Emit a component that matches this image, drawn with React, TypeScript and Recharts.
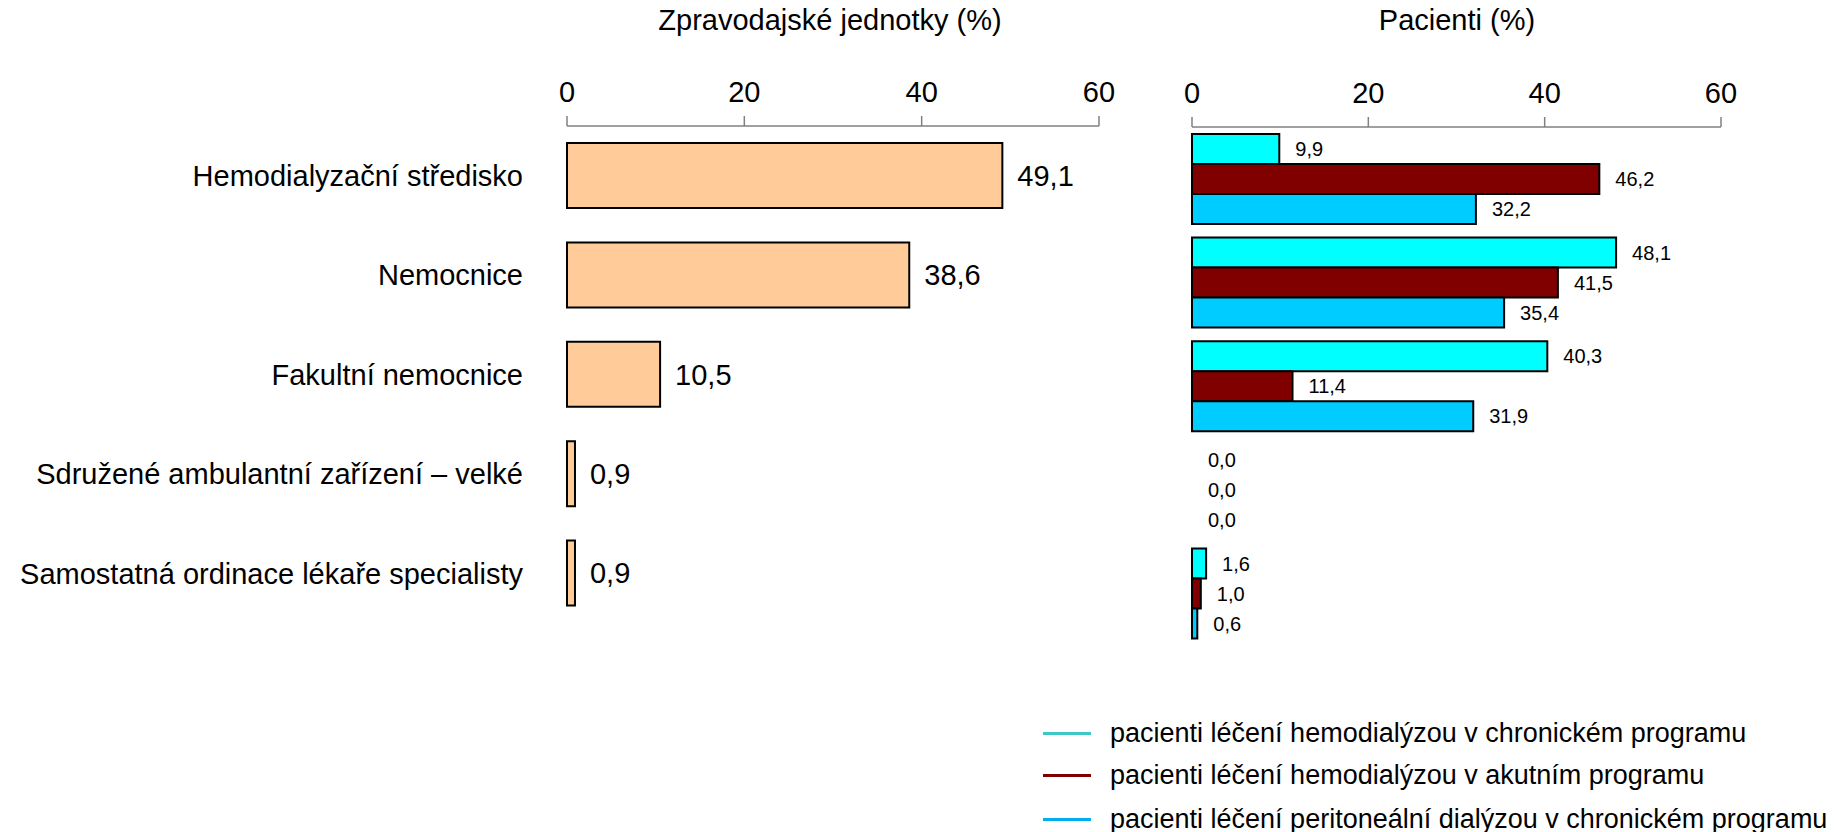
import React from "react";
import { Bar, BarChart, Cell, LabelList, XAxis, YAxis } from "recharts";

const categories = [
  "Hemodialyzační středisko",
  "Nemocnice",
  "Fakultní nemocnice",
  "Sdružené ambulantní zařízení – velké",
  "Samostatná ordinace lékaře specialisty",
];

// Zpravodajské jednotky (%)
const unitShares = [49.1, 38.6, 10.5, 0.9, 0.9];

// Pacienti (%)
const hdChronic = [9.9, 48.1, 40.3, 0.0, 1.6];
const hdAcute = [46.2, 41.5, 11.4, 0.0, 1.0];
const pdChronic = [32.2, 35.4, 31.9, 0.0, 0.6];

const axisTicks = [0, 20, 40, 60];

const seriesNames = [
  "pacienti léčení hemodialýzou v chronickém programu",
  "pacienti léčení hemodialýzou v akutním programu",
  "pacienti léčení peritoneální dialýzou v chronickém programu",
];

const FONT = '"Liberation Sans", Arial, sans-serif';
const barColors = ["#00ffff", "#800000", "#00ccff"];
const legendColors = ["#3cc8c8", "#800000", "#00aeef"];

const unitsData = categories.map((name, i) => ({ name, value: unitShares[i] }));
const patientsData = categories.map((name, i) => ({
  name,
  hdc: hdChronic[i],
  hda: hdAcute[i],
  pdc: pdChronic[i],
}));
const patientSeries = [hdChronic, hdAcute, pdChronic];

const fmt = (v: any) => Number(v).toFixed(1).replace(".", ",");

const tickStyle = { fontSize: 29, fill: "#000", fontFamily: FONT };

export default function App() {
  return (
    <div
      style={{
        position: "absolute",
        left: 0,
        top: 0,
        width: 1834,
        height: 832,
        background: "#fff",
        fontFamily: FONT,
        color: "#000",
      }}
    >
      <div style={{ position: "absolute", left: 580, width: 500, top: 4, textAlign: "center", fontSize: 29 }}>
        Zpravodajské jednotky (%)
      </div>
      <div style={{ position: "absolute", left: 1207, width: 500, top: 4, textAlign: "center", fontSize: 29 }}>
        Pacienti (%)
      </div>

      <div style={{ position: "absolute", left: 0, top: 0 }}>
        <BarChart
          width={1130}
          height={623}
          data={unitsData}
          layout="vertical"
          margin={{ top: 86, right: 31, bottom: 0, left: 0 }}
          barCategoryGap={17}
        >
          <XAxis
            type="number"
            orientation="top"
            domain={[0, 60]}
            ticks={axisTicks}
            height={40}
            tickSize={10}
            tickMargin={14}
            axisLine={{ stroke: "#808080", strokeWidth: 1.5 }}
            tickLine={{ stroke: "#808080", strokeWidth: 1.5 }}
            tick={tickStyle}
          />
          <YAxis
            type="category"
            dataKey="name"
            width={567}
            axisLine={false}
            tickLine={false}
            tickSize={0}
            tickMargin={44}
            interval={0}
            tick={tickStyle}
          />
          <Bar dataKey="value" fill="#ffcc99" stroke="#000" strokeWidth={2} isAnimationActive={false}>
            <LabelList dataKey="value" position="right" offset={15} formatter={fmt} style={tickStyle} />
          </Bar>
        </BarChart>
      </div>

      <div style={{ position: "absolute", left: 1140, top: 0 }}>
        <BarChart
          width={694}
          height={645}
          data={patientsData}
          layout="vertical"
          margin={{ top: 87, right: 113, bottom: 0, left: 52 }}
          barCategoryGap={7}
          barGap={0}
        >
          <XAxis
            type="number"
            orientation="top"
            domain={[0, 60]}
            ticks={axisTicks}
            height={40}
            tickSize={10}
            tickMargin={14}
            axisLine={{ stroke: "#808080", strokeWidth: 1.5 }}
            tickLine={{ stroke: "#808080", strokeWidth: 1.5 }}
            tick={tickStyle}
          />
          <YAxis type="category" dataKey="name" hide />
          {["hdc", "hda", "pdc"].map((key, i) => (
            <Bar
              key={key}
              dataKey={key}
              name={seriesNames[i]}
              fill={barColors[i]}
              stroke="#000"
              strokeWidth={2}
              minPointSize={(v: number) => (v === 0 ? 0.01 : 0)}
              isAnimationActive={false}
            >
              {patientSeries[i].map((v, j) => (
                <Cell key={j} stroke={v === 0 ? "none" : "#000"} fill={v === 0 ? "none" : barColors[i]} />
              ))}
              <LabelList
                dataKey={key}
                position="right"
                offset={16}
                formatter={fmt}
                style={{ fontSize: 20, fill: "#000", fontFamily: FONT }}
              />
            </Bar>
          ))}
        </BarChart>
      </div>

      <div style={{ position: "absolute", left: 1043, top: 714 }}>
        {seriesNames.map((name, i) => (
          <div
            key={name}
            style={{ display: "flex", alignItems: "center", height: 38, marginBottom: i === 1 ? 6 : 4 }}
          >
            <div style={{ width: 48, height: 3, background: legendColors[i], marginRight: 19 }} />
            <span style={{ fontSize: 27, lineHeight: "38px", whiteSpace: "nowrap" }}>{name}</span>
          </div>
        ))}
      </div>
    </div>
  );
}
